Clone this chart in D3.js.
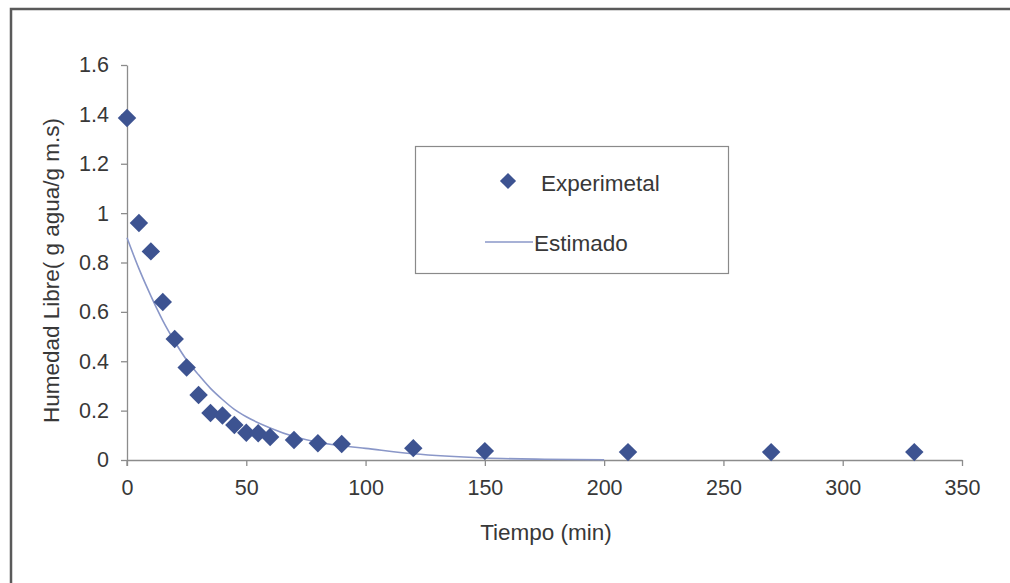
<!DOCTYPE html>
<html>
<head>
<meta charset="utf-8">
<script src="https://cdn.jsdelivr.net/npm/d3@7"></script>
<style>
  body { margin: 0; background: #fff; }
  svg { display: block; font-family: "Liberation Sans", Arial, sans-serif; }
</style>
</head>
<body>
<svg id="chart"></svg>
<script>
// Experimental points (tiempo in min, humedad libre)
const tiempoExp = [0, 5, 10, 15, 20, 25, 30, 35, 40, 45, 50, 55, 60, 70, 80, 90, 120, 150, 210, 270, 330];
const humedadExp = [1.385, 0.96, 0.845, 0.64, 0.49, 0.375, 0.263, 0.19, 0.18, 0.142, 0.11, 0.108, 0.093, 0.081, 0.068, 0.065, 0.048, 0.036, 0.032, 0.032, 0.032];

// Estimated curve
const tiempoEst = [0, 5, 10, 15, 20, 25, 30, 35, 40, 45, 50, 60, 70, 80, 90, 100, 120, 150, 175, 200];
const humedadEst = [0.90, 0.775, 0.665, 0.565, 0.48, 0.405, 0.345, 0.29, 0.245, 0.205, 0.175, 0.13, 0.095, 0.072, 0.058, 0.047, 0.025, 0.008, 0.003, 0.001];

const xTicks = [0, 50, 100, 150, 200, 250, 300, 350];
const yTicks = [0, 0.2, 0.4, 0.6, 0.8, 1, 1.2, 1.4, 1.6];
const seriesNames = ['Experimetal', 'Estimado'];

const width = 1010, height = 583;
const margin = {top: 65, right: 48, bottom: 123, left: 127};
const pointColor = '#3d5391';
const lineColor = '#8a97c8';
const axisColor = '#8c8c8c';
const textColor = '#383838';

const svg = d3.select('#chart')
  .attr('width', width)
  .attr('height', height);

// outer frame (only top & left visible in the scan)
svg.append('path')
  .attr('d', `M11,${height} L11,9 L${width},9`)
  .attr('fill', 'none')
  .attr('stroke', '#5a5a5a')
  .attr('stroke-width', 2.5);

const xScale = d3.scaleLinear()
  .domain([0, 350])
  .range([margin.left, width - margin.right]);

const yScale = d3.scaleLinear()
  .domain([0, 1.6])
  .range([height - margin.bottom, margin.top]);

// axes
const xAxis = d3.axisBottom(xScale)
  .tickValues(xTicks)
  .tickSize(6)
  .tickSizeOuter(0)
  .tickPadding(11)
  .tickFormat(d3.format('d'));

const yAxis = d3.axisLeft(yScale)
  .tickValues(yTicks)
  .tickSize(6)
  .tickSizeOuter(0)
  .tickPadding(12)
  .tickFormat(d => d === 0 ? '0' : d3.format('')(+d.toFixed(1)));

const xAxisG = svg.append('g')
  .attr('transform', `translate(0,${yScale(0)})`)
  .call(xAxis);

const yAxisG = svg.append('g')
  .attr('transform', `translate(${xScale(0)},0)`)
  .call(yAxis);

[xAxisG, yAxisG].forEach(g => {
  g.attr('font-size', null).attr('font-family', null);
  g.select('.domain').attr('stroke', axisColor).attr('stroke-width', 1.3);
  g.selectAll('.tick line').attr('stroke', axisColor).attr('stroke-width', 1.3);
  g.selectAll('.tick text')
    .attr('fill', textColor)
    .style('font-size', '21.5px');
});
xAxisG.selectAll('.tick text').attr('dy', '0.85em');

// y axis also pokes a little below the x axis
yAxisG.append('line')
  .attr('x1', 0).attr('x2', 0)
  .attr('y1', yScale(0)).attr('y2', yScale(0) + 6)
  .attr('stroke', axisColor).attr('stroke-width', 1.3);

// axis titles
svg.append('text')
  .attr('x', 546)
  .attr('y', 540)
  .attr('text-anchor', 'middle')
  .style('font-size', '22.5px')
  .attr('fill', textColor)
  .text('Tiempo (min)');

svg.append('text')
  .attr('transform', `translate(59,${(yScale(0) + yScale(1.6)) / 2 + 8}) rotate(-90)`)
  .attr('text-anchor', 'middle')
  .style('font-size', '22.5px')
  .attr('fill', textColor)
  .text('Humedad Libre( g agua/g m.s)');

// estimated line
const estData = tiempoEst.map((t, i) => ({t, h: humedadEst[i]}));
const line = d3.line()
  .x(d => xScale(d.t))
  .y(d => yScale(d.h))
  .curve(d3.curveMonotoneX);

svg.append('path')
  .datum(estData)
  .attr('d', line)
  .attr('fill', 'none')
  .attr('stroke', lineColor)
  .attr('stroke-width', 1.6);

// experimental diamonds
const expData = tiempoExp.map((t, i) => ({t, h: humedadExp[i]}));
const diamond = d3.symbol().type(d3.symbolSquare).size(170);

svg.append('g')
  .selectAll('path')
  .data(expData)
  .join('path')
  .attr('d', diamond)
  .attr('transform', d => `translate(${xScale(d.t)},${yScale(d.h)}) rotate(45)`)
  .attr('fill', pointColor);

// legend
const legend = svg.append('g');
legend.append('rect')
  .attr('x', 415.5).attr('y', 146.5)
  .attr('width', 313).attr('height', 127)
  .attr('fill', 'none')
  .attr('stroke', '#8a8a8a')
  .attr('stroke-width', 1.2);

legend.append('path')
  .attr('d', d3.symbol().type(d3.symbolSquare).size(130))
  .attr('transform', 'translate(508,181) rotate(45)')
  .attr('fill', pointColor);

legend.append('line')
  .attr('x1', 485).attr('x2', 533)
  .attr('y1', 242).attr('y2', 242)
  .attr('stroke', lineColor)
  .attr('stroke-width', 1.6);

legend.selectAll('text.lbl')
  .data(seriesNames)
  .join('text')
  .attr('class', 'lbl')
  .attr('x', (d, i) => i === 0 ? 541 : 534)
  .attr('y', (d, i) => i === 0 ? 183 : 243)
  .attr('dy', '0.35em')
  .style('font-size', '22.5px')
  .attr('fill', textColor)
  .text(d => d);
</script>
</body>
</html>
